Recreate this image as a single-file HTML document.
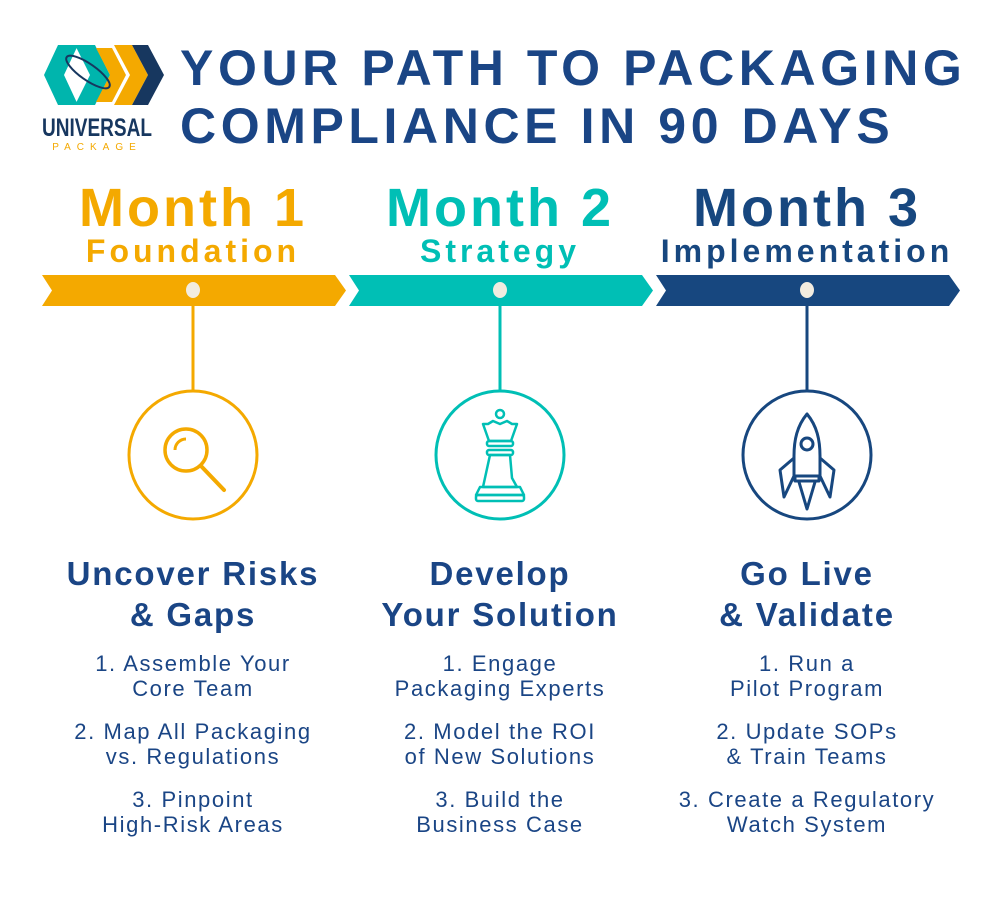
<!DOCTYPE html>
<html><head><meta charset="utf-8"><style>
body{margin:0;width:1000px;height:900px;background:#fff;font-family:"Liberation Sans",sans-serif;position:relative;overflow:hidden;color:#1a4585}
.a{position:absolute;white-space:nowrap}
.title{left:180px;top:39px;font-size:50px;font-weight:bold;line-height:58px;color:#1a4585;letter-spacing:4.6px}
.col{position:absolute;width:320px;text-align:center}
.m{font-size:54px;font-weight:bold;line-height:56px;letter-spacing:3px}
.s{font-size:32px;font-weight:bold;line-height:30px;letter-spacing:4px}
.h{font-size:33px;font-weight:bold;line-height:41px;color:#1a4585;letter-spacing:1.8px}
.it{font-size:22px;line-height:25px;color:#1a4585;margin-top:18px;letter-spacing:1.6px}
</style></head><body>
<svg class="a" style="left:0;top:0" width="1000" height="900">
<polygon points="58,45 78,45 64,75 78,105 58,105 44,75" fill="#00b5ad"/>
<polygon points="75,45 95,45 110,75 95,105 75,105 90,75" fill="#00b5ad"/>
<polygon points="96,48 112,48 126,75 112,102 96,102 110,75" fill="#f4a900"/>
<polygon points="114,45 132,45 148,75 132,105 114,105 130,75" fill="#f4a900"/>
<polygon points="132,45 148,45 164,75 148,105 132,105 148,75" fill="#17375f"/>
<ellipse cx="88" cy="72" rx="26" ry="8" transform="rotate(35 88 72)" fill="none" stroke="#17375f" stroke-width="2"/>
<text x="97" y="136" font-size="25" font-weight="bold" fill="#17375f" text-anchor="middle" font-family="Liberation Sans" textLength="110" lengthAdjust="spacingAndGlyphs">UNIVERSAL</text>
<text x="97" y="150" font-size="10" fill="#f4a900" text-anchor="middle" font-family="Liberation Sans" letter-spacing="6">PACKAGE</text>
<polygon points="42,275 335,275 346,290.5 335,306 42,306 52,290.5" fill="#f4a900"/>
<polygon points="349,275 642,275 653,290.5 642,306 349,306 359,290.5" fill="#00bfb5"/>
<polygon points="656,275 949,275 960,290.5 949,306 656,306 666,290.5" fill="#17477f"/>
<g fill="#f2ece0"><ellipse cx="193" cy="290" rx="7" ry="8"/><ellipse cx="500" cy="290" rx="7" ry="8"/><ellipse cx="807" cy="290" rx="7" ry="8"/></g>
<line x1="193" y1="306" x2="193" y2="390" stroke="#f4a900" stroke-width="3"/>
<line x1="500" y1="306" x2="500" y2="390" stroke="#00bfb5" stroke-width="3"/>
<line x1="807" y1="306" x2="807" y2="390" stroke="#17477f" stroke-width="3"/>
<circle cx="193" cy="455" r="64" fill="none" stroke="#f4a900" stroke-width="3"/>
<circle cx="500" cy="455" r="64" fill="none" stroke="#00bfb5" stroke-width="3"/>
<circle cx="807" cy="455" r="64" fill="none" stroke="#17477f" stroke-width="3"/>
<circle cx="186" cy="450" r="21" fill="none" stroke="#f4a900" stroke-width="3.5"/>
<line x1="201" y1="466" x2="224" y2="490" stroke="#f4a900" stroke-width="4" stroke-linecap="round"/>
<path d="M175 450 a11 11 0 0 1 11 -11" fill="none" stroke="#f4a900" stroke-width="3"/>
<g fill="none" stroke="#00bfb5" stroke-width="2.5" stroke-linejoin="round">
<circle cx="500" cy="414" r="4"/>
<path d="M483 424 L488 424 L493 421 L500 424 L507 421 L512 424 L517 424 L511 441 L489 441 Z"/>
<rect x="487" y="441" width="26" height="5" rx="2"/>
<rect x="487" y="450" width="26" height="5" rx="2"/>
<path d="M490 455 L510 455 L512 478 L517 487 L483 487 Z"/>
<path d="M480 487 L520 487 L524 495 L476 495 Z"/>
<rect x="476" y="495" width="48" height="6" rx="2"/>
</g>
<g fill="none" stroke="#17477f" stroke-width="3" stroke-linejoin="round">
<path d="M807 414 C797 426 794 440 794 456 L794 476 L820 476 L820 456 C820 440 817 426 807 414 Z"/>
<circle cx="807" cy="444" r="6"/>
<path d="M794 458 L780 470 L784 497 L794 476"/>
<path d="M820 458 L834 470 L830 497 L820 476"/>
<rect x="795" y="476" width="24" height="5"/>
<path d="M799 482 L807 509 L815 482"/>
</g>
</svg>
<div class="a title">YOUR PATH TO PACKAGING<br>COMPLIANCE IN 90 DAYS</div>

<div class="col" style="left:33px;top:180px"><div class="m" style="color:#f4a900">Month 1</div><div class="s" style="color:#f4a900">Foundation</div></div>
<div class="col" style="left:340px;top:180px"><div class="m" style="color:#00bfb5">Month 2</div><div class="s" style="color:#00bfb5">Strategy</div></div>
<div class="col" style="left:647px;top:180px"><div class="m" style="color:#17477f">Month 3</div><div class="s" style="color:#17477f">Implementation</div></div>

<div class="col" style="left:33px;top:553px"><div class="h">Uncover Risks<br>&amp; Gaps</div>
<div class="it" style="margin-top:16px">1. Assemble Your<br>Core Team</div>
<div class="it">2. Map All Packaging<br>vs. Regulations</div>
<div class="it">3. Pinpoint<br>High-Risk Areas</div></div>
<div class="col" style="left:340px;top:553px"><div class="h">Develop<br>Your Solution</div>
<div class="it" style="margin-top:16px">1. Engage<br>Packaging Experts</div>
<div class="it">2. Model the ROI<br>of New Solutions</div>
<div class="it">3. Build the<br>Business Case</div></div>
<div class="col" style="left:647px;top:553px"><div class="h">Go Live<br>&amp; Validate</div>
<div class="it" style="margin-top:16px">1. Run a<br>Pilot Program</div>
<div class="it">2. Update SOPs<br>&amp; Train Teams</div>
<div class="it">3. Create a Regulatory<br>Watch System</div></div>
</body></html>
